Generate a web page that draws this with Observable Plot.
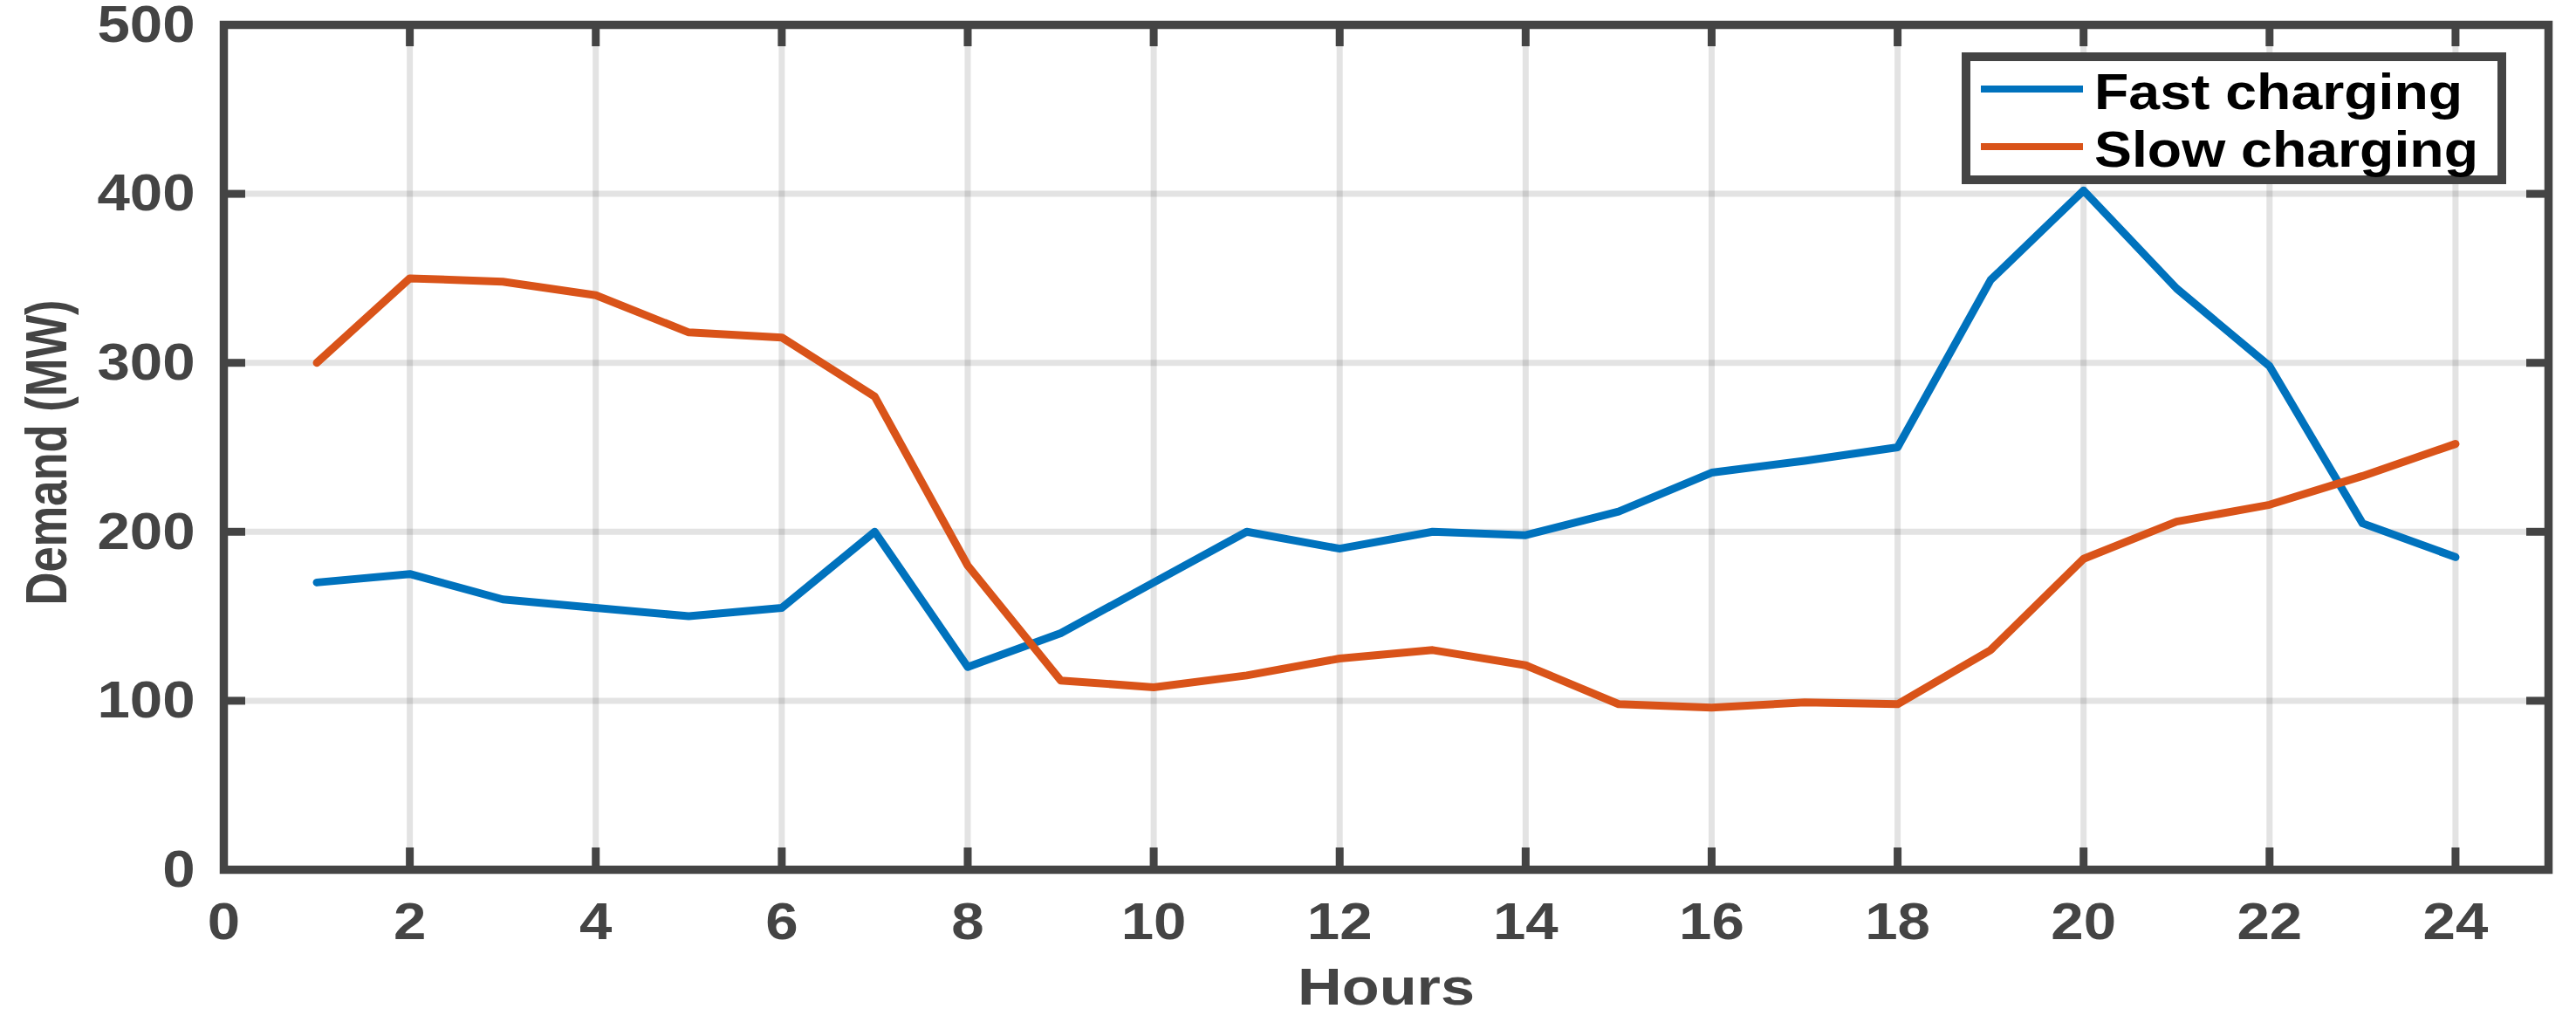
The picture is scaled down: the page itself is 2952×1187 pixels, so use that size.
<!DOCTYPE html>
<html><head><meta charset="utf-8">
<script src="https://cdn.jsdelivr.net/npm/d3@7"></script>
<script src="https://cdn.jsdelivr.net/npm/@observablehq/plot@0.6"></script>
<style>
html,body{margin:0;padding:0;background:#fff;}
#wrap{position:relative;width:2952px;height:1187px;overflow:hidden;}
.legend{position:absolute;left:2248px;top:60px;width:604px;height:131px;border:10px solid #444;background:#fff;font-family:"Liberation Sans",Arial,sans-serif;font-weight:bold;font-size:58px;color:#000;}
.row{position:absolute;left:0;height:66px;width:100%;}
.sw{position:absolute;left:12px;width:117px;height:8px;top:26px;}
.lab{position:absolute;left:142px;top:0;line-height:66px;white-space:nowrap;transform-origin:0 50%;transform:scaleX(1.11);}
</style>
</head><body>
<div id="wrap"></div>
<script>
const hours = [1,2,3,4,5,6,7,8,9,10,11,12,13,14,15,16,17,18,19,20,21,22,23,24];
const fastCharging = [170,175,160,155,150,155,200,120,140,170,200,190,200,198,212,235,242,250,349,402,344,298,205,185];
const slowCharging = [300,350,348,340,318,315,280,180,112,108,115,125,130,121,98,96,99,98,130,184,206,216,233,252];
const xTicks = [0,2,4,6,8,10,12,14,16,18,20,22,24];
const yTicks = [0,100,200,300,400,500];
const seriesNames = ["Fast charging","Slow charging"];
const seriesColors = ["#0072BD","#D95319"];
const xTitle = "Hours";
const yTitle = "Demand (MW)";

const fastRows = hours.map((h,i)=>({hour:h, demand:fastCharging[i]}));
const slowRows = hours.map((h,i)=>({hour:h, demand:slowCharging[i]}));

const W = 2952, H = 1187;
const mL = 256, mR = 32, mT = 28, mB = 191;
const pw = W - mL - mR, ph = H - mT - mB;
const tickLen = 25;
const axisColor = "#444444";
const fontFam = '"Liberation Sans", Arial, sans-serif';

const chart = Plot.plot({
  width: W, height: H,
  marginLeft: mL, marginRight: mR, marginTop: mT, marginBottom: mB,
  style: {fontFamily: fontFam, fontWeight: "bold", fontSize: "60px", color: axisColor, background: "#fff", overflow: "visible"},
  x: {domain: [0,25], axis: null},
  y: {domain: [0,500], axis: null},
  marks: [
    Plot.gridX(xTicks, {stroke: "#262626", strokeOpacity: 0.13, strokeWidth: 7}),
    Plot.gridY(yTicks, {stroke: "#262626", strokeOpacity: 0.13, strokeWidth: 7}),
    Plot.line(fastRows, {x: "hour", y: "demand", stroke: seriesColors[0], strokeWidth: 9}),
    Plot.line(slowRows, {x: "hour", y: "demand", stroke: seriesColors[1], strokeWidth: 9}),
    Plot.tickX(xTicks, {x: d=>d, stroke: axisColor, strokeWidth: 9, insetTop: ph - tickLen}),
    Plot.tickX(xTicks, {x: d=>d, stroke: axisColor, strokeWidth: 9, insetBottom: ph - tickLen}),
    Plot.tickY(yTicks, {y: d=>d, stroke: axisColor, strokeWidth: 9, insetRight: pw - tickLen}),
    Plot.tickY(yTicks, {y: d=>d, stroke: axisColor, strokeWidth: 9, insetLeft: pw - tickLen}),
    Plot.frame({stroke: axisColor, strokeWidth: 9.5}),
    Plot.axisX(xTicks, {anchor: "bottom", tickSize: 0, tickPadding: 37, label: null, fill: axisColor, fontSize: 60}),
    Plot.axisY(yTicks, {anchor: "left", tickSize: 0, tickPadding: 33, label: null, fill: axisColor, fontSize: 60}),
    Plot.text([xTitle], {text: d=>d, frameAnchor: "bottom", lineAnchor: "middle", dy: 135, fill: axisColor, fontSize: 60, fontWeight: "bold"}),
    Plot.text([yTitle], {text: d=>d, frameAnchor: "left", textAnchor: "middle", lineAnchor: "middle", dx: -202, dy: 6, rotate: -90, fill: axisColor, fontSize: 66, fontWeight: "bold"})
  ]
});
const wrap = document.getElementById("wrap");
wrap.appendChild(chart);

// widen glyphs horizontally to match the reference's stretched type
d3.select(chart).selectAll("text").each(function() {
  const t = this.textContent;
  let target;
  if (t === yTitle) target = 350;
  else if (t === xTitle) target = 203;
  else target = this.getComputedTextLength() * 1.12;
  this.setAttribute("textLength", target);
  this.setAttribute("lengthAdjust", "spacingAndGlyphs");
});

const leg = document.createElement("div");
leg.className = "legend";
seriesNames.forEach((n,i)=>{
  const r = document.createElement("div");
  r.className = "row";
  r.style.top = (2 + i*66) + "px";
  const sw = document.createElement("div");
  sw.className = "sw";
  sw.style.background = seriesColors[i];
  const lb = document.createElement("div");
  lb.className = "lab";
  lb.textContent = n;
  r.appendChild(sw); r.appendChild(lb);
  leg.appendChild(r);
});
wrap.appendChild(leg);
</script>
</body></html>
